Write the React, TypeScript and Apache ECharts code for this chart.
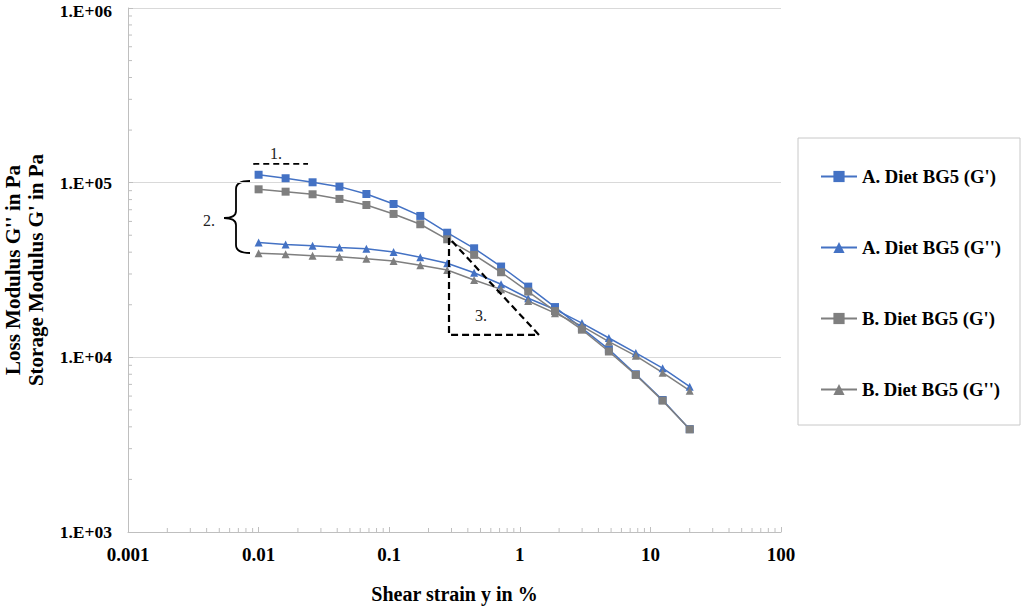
import React, { useEffect, useRef } from "react";
import * as echarts from "echarts";

// ---- data ----
const strainPct = [0.01, 0.0161, 0.0259, 0.0416, 0.0669, 0.108, 0.173, 0.278, 0.447, 0.719, 1.16, 1.86, 2.99, 4.81, 7.73, 12.4, 20];
const aStorage = [111000, 106000, 100500, 94900, 86100, 75500, 64500, 51700, 42100, 33100, 25400, 19400, 14700, 11100, 8000, 5700, 3880];
const aLoss = [45400, 44200, 43600, 42600, 41900, 40100, 37400, 34600, 30500, 26200, 21800, 18800, 15700, 12900, 10600, 8670, 6790];
const bStorage = [91600, 88800, 85800, 80700, 74500, 66200, 57800, 47400, 38600, 30700, 23800, 18400, 14400, 10800, 7930, 5650, 3870];
const bLoss = [39400, 38900, 38200, 37700, 36700, 35600, 33700, 31600, 27700, 24500, 21000, 17900, 15100, 12300, 10200, 8170, 6440];

const seriesNames = ["A. Diet BG5 (G')", "A. Diet BG5 (G'')", "B. Diet BG5 (G')", "B. Diet BG5 (G'')"];

const xTickLabels = ["0.001", "0.01", "0.1", "1", "10", "100"];
const yTickLabels = ["1.E+03", "1.E+04", "1.E+05", "1.E+06"];

const minorMantissas = [2, 3, 4, 5, 6, 7, 8, 9];
const xDecades = [0.001, 0.01, 0.1, 1, 10];
const yDecades = [1000, 10000, 100000];

// annotation geometry in data units
const plateauMark = [[0.0091, 128000], [0.0239, 128000]];
const slopeTriangle = [[0.287, 48200], [0.287, 13430], [1.403, 13430], [0.287, 48200]];

const BLUE = "#4472C4";
const GRAY = "#7F7F7F";
const FONT = "'Liberation Serif', 'Times New Roman', serif";

echarts.graphic.registerShape(
  "brace",
  echarts.graphic.extendPath(
    "M26 0 C17 0 12 2 12 8 L12 30 C12 35 7 37 0 37 C7 37 12 39 12 44 L12 64 C12 70 17 72 26 72",
    {}
  )
);

const X_MIN = 0.001;
const Y_MIN = 1000;

export default function App() {
  const ref = useRef<HTMLDivElement>(null);

  useEffect(() => {
    if (!ref.current) return;
    const chart = echarts.init(ref.current, undefined, { renderer: "svg" });

    const zip = (ys: number[]) => strainPct.map((x, i) => [x, ys[i]]);
    const xMinor = xDecades.flatMap((d) => minorMantissas.map((m) => [d * m, Y_MIN]));
    const yMinor = yDecades.flatMap((d) => minorMantissas.map((m) => [X_MIN, d * m]));

    const mkSeries = (name: string, ys: number[], color: string, symbol: string) => ({
      name,
      type: "line",
      data: zip(ys),
      symbol,
      symbolSize: 8,
      itemStyle: { color },
      lineStyle: { color, width: 1.5 },
      z: 5,
    });

    const yLabelFont = { fontFamily: FONT, fontWeight: "bold", fontSize: 17.5, color: "#000" };

    chart.setOption({
      animation: false,
      grid: { left: 128, right: 243, top: 8, bottom: 78, containLabel: false, outerBoundsMode: "none" },
      legend: {
        data: seriesNames,
        orient: "vertical",
        left: 815,
        top: 162,
        padding: 5,
        itemWidth: 36,
        itemHeight: 14,
        itemGap: 52,
        selectedMode: false,
        textStyle: { fontFamily: FONT, fontWeight: "bold", fontSize: 18.7, color: "#000" },
      },
      xAxis: {
        type: "log",
        logBase: 10,
        min: 0.001,
        max: 100,
        name: "Shear strain y in %",
        nameLocation: "middle",
        nameGap: 52,
        nameTextStyle: { fontFamily: FONT, fontWeight: "bold", fontSize: 20, color: "#000" },
        axisLine: { lineStyle: { color: "#bfbfbf", width: 1 } },
        axisTick: { show: true, inside: true, length: 5, lineStyle: { color: "#bfbfbf" } },
        splitLine: { show: false },
        axisLabel: {
          margin: 13,
          fontFamily: FONT,
          fontWeight: "bold",
          fontSize: 19,
          color: "#000",
          formatter: (v: number) => xTickLabels[Math.round(Math.log10(v)) + 3] ?? String(v),
        },
      },
      yAxis: {
        type: "log",
        logBase: 10,
        min: 1000,
        max: 1000000,
        name: "Loss Modulus G'' in Pa\nStorage Modulus G' in Pa",
        nameLocation: "middle",
        nameRotate: 90,
        nameGap: 81,
        nameTextStyle: { fontFamily: FONT, fontWeight: "bold", fontSize: 21, lineHeight: 23, color: "#000" },
        axisLine: { show: true, lineStyle: { color: "#bfbfbf", width: 1 } },
        axisTick: { show: true, inside: true, length: 5, lineStyle: { color: "#bfbfbf" } },
        splitLine: { show: true, lineStyle: { color: "#d9d9d9", width: 1 } },
        axisLabel: {
          margin: 16,
          ...yLabelFont,
          formatter: (v: number) => {
            const i = Math.round(Math.log10(v)) - 3;
            const t = yTickLabels[i] ?? String(v);
            return i === yTickLabels.length - 1 ? `{top|${t}}` : `{n|${t}}`;
          },
          rich: {
            n: { ...yLabelFont, lineHeight: 18 },
            top: { ...yLabelFont, lineHeight: 18, padding: [6, 0, 0, 0] },
          },
        },
      },
      series: [
        mkSeries(seriesNames[0], aStorage, BLUE, "rect"),
        mkSeries(seriesNames[1], aLoss, BLUE, "triangle"),
        mkSeries(seriesNames[2], bStorage, GRAY, "rect"),
        mkSeries(seriesNames[3], bLoss, GRAY, "triangle"),
        {
          name: "plateau",
          type: "line",
          data: plateauMark,
          symbol: "none",
          silent: true,
          lineStyle: { color: "#000", width: 1.8, type: [6, 4] },
          z: 8,
        },
        {
          name: "slope",
          type: "line",
          data: slopeTriangle,
          symbol: "none",
          silent: true,
          lineStyle: { color: "#000", width: 2.2, type: [7, 4] },
          z: 8,
        },
        {
          name: "xMinorTicks",
          type: "custom",
          silent: true,
          data: xMinor,
          z: 3,
          renderItem: (_p: any, api: any) => {
            const pt = api.coord([api.value(0), api.value(1)]);
            return {
              type: "line",
              shape: { x1: pt[0], y1: pt[1], x2: pt[0], y2: pt[1] - 4 },
              style: { stroke: "#bfbfbf", lineWidth: 1 },
            };
          },
        },
        {
          name: "yMinorTicks",
          type: "custom",
          silent: true,
          data: yMinor,
          z: 3,
          renderItem: (_p: any, api: any) => {
            const pt = api.coord([api.value(0), api.value(1)]);
            return {
              type: "line",
              shape: { x1: pt[0], y1: pt[1], x2: pt[0] + 4, y2: pt[1] },
              style: { stroke: "#bfbfbf", lineWidth: 1 },
            };
          },
        },
      ],
      graphic: [
        {
          type: "rect",
          shape: { x: 798, y: 138, width: 222, height: 287 },
          style: { fill: "none", stroke: "#c8c8c8", lineWidth: 1 },
          silent: true,
        },
        {
          type: "brace",
          x: 224,
          y: 181,
          shape: {},
          style: { fill: "none", stroke: "#000", lineWidth: 1.8 },
          silent: true,
        },
        {
          type: "text",
          x: 276,
          y: 153,
          style: { text: "1.", font: `16px ${FONT}`, fill: "#222", align: "center", verticalAlign: "middle" },
        },
        {
          type: "text",
          x: 209,
          y: 220,
          style: { text: "2.", font: `16px ${FONT}`, fill: "#222", align: "center", verticalAlign: "middle" },
        },
        {
          type: "text",
          x: 481,
          y: 315,
          style: { text: "3.", font: `16px ${FONT}`, fill: "#222", align: "center", verticalAlign: "middle" },
        },
      ],
    });

    return () => chart.dispose();
  }, []);

  return (
    <div
      ref={ref}
      style={{ position: "fixed", left: 0, top: 0, width: 1024, height: 610, background: "#fff" }}
    />
  );
}
